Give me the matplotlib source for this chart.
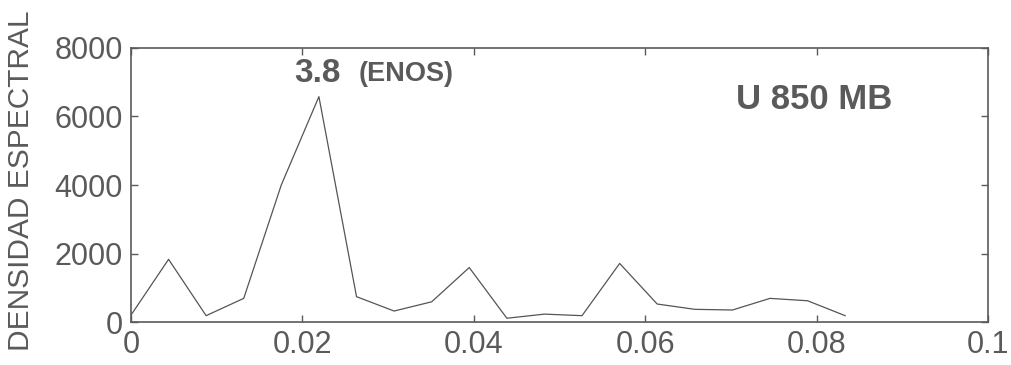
import numpy as np
import matplotlib.pyplot as plt
import matplotlib

matplotlib.rcParams['font.family'] = 'Liberation Sans'

# frecuencias (ciclos/mes) y densidad espectral
frecuencia = [0.0, 0.00439, 0.00877, 0.01316, 0.01754, 0.02193, 0.02632,
              0.03070, 0.03509, 0.03947, 0.04386, 0.04825, 0.05263,
              0.05702, 0.06140, 0.06579, 0.07018, 0.07456, 0.07895, 0.08333]
densidad = [200, 1830, 185, 690, 4000, 6580, 740, 320, 590, 1590,
            110, 230, 185, 1710, 525, 370, 350, 690, 620, 185]

xticks = [0, 0.02, 0.04, 0.06, 0.08, 0.1]
xtick_labels = ['0', '0.02', '0.04', '0.06', '0.08', '0.1']
yticks = [0, 2000, 4000, 6000, 8000]

gris = '#5a5a5a'

fig = plt.figure(figsize=(10.12, 3.65), dpi=100)
ax = fig.add_axes([0.1294, 0.1178, 0.8469, 0.7507])

ax.plot(frecuencia, densidad, color='#555555', lw=0.9)

ax.set_xlim(0, 0.1)
ax.set_ylim(0, 8000)
ax.set_xticks(xticks)
ax.set_xticklabels(xtick_labels)
ax.set_yticks(yticks)
ax.tick_params(direction='in', top=True, right=True, length=5, width=1,
               colors=gris, labelsize=22, pad=6)
for s in ax.spines.values():
    s.set_color(gris)
    s.set_linewidth(1.2)

fig.text(0.021, 0.505, 'DENSIDAD ESPECTRAL', rotation=90, va='center', ha='center',
         fontsize=21.5, color=gris)

ax.text(0.0218, 7250, '3.8', fontsize=24, fontweight='bold', color=gris,
        ha='center', va='center')
ax.text(0.0266, 7250, '(ENOS)', fontsize=19.5, fontweight='bold', color=gris,
        ha='left', va='center')
ax.text(0.0706, 6500, 'U 850 MB', fontsize=25, fontweight='bold', color=gris,
        ha='left', va='center')

plt.savefig('out.png', dpi=100)
